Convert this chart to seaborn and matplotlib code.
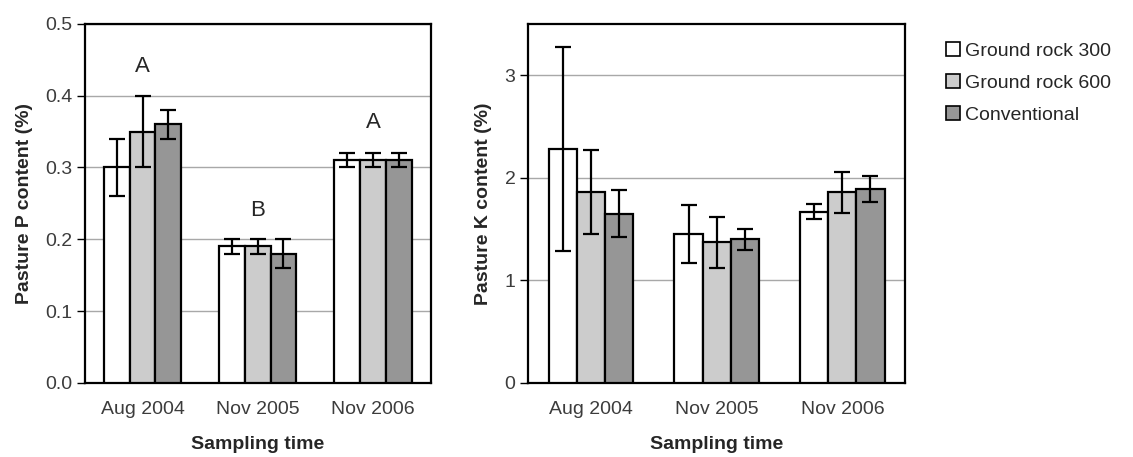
import pandas as pd
import seaborn as sns
import matplotlib.pyplot as plt
from matplotlib.patches import Patch

# data
times = ["Aug 2004", "Nov 2005", "Nov 2006"]
treatments = ["Ground rock 300", "Ground rock 600", "Conventional"]
colors = ["#ffffff", "#cccccc", "#969696"]

p_mean = [[0.30, 0.19, 0.31], [0.35, 0.19, 0.31], [0.36, 0.18, 0.31]]
p_err = [[0.04, 0.01, 0.01], [0.05, 0.01, 0.01], [0.02, 0.02, 0.01]]
p_letters = ["A", "B", "A"]
p_letter_y = [0.44, 0.24, 0.362]

k_mean = [[2.28, 1.45, 1.67], [1.86, 1.37, 1.86], [1.65, 1.40, 1.89]]
k_err = [[0.99, 0.28, 0.07], [0.41, 0.25, 0.20], [0.23, 0.10, 0.13]]


def long_df(means, errs):
    rows = []
    for i, trt in enumerate(treatments):
        for j, t in enumerate(times):
            rows.append({"time": t, "treatment": trt, "value": means[i][j], "err": errs[i][j]})
    return pd.DataFrame(rows)


sns.set_style("white")
plt.rcParams["font.family"] = ["Liberation Sans", "DejaVu Sans"]

fig = plt.figure(figsize=(11.33, 4.57), dpi=100)
ax1 = fig.add_axes([0.075, 0.162, 0.305, 0.786])
ax2 = fig.add_axes([0.466, 0.162, 0.333, 0.786])

tick_col = "#3c3c3c"


def draw(ax, means, errs, ylim, yticks, fmt, ylabel):
    df = long_df(means, errs)
    sns.barplot(data=df, x="time", y="value", hue="treatment", hue_order=treatments,
                palette=colors, edgecolor="black", linewidth=1.6, width=0.67,
                errorbar=None, legend=False, ax=ax, zorder=3)
    bars = list(ax.containers)
    for i, cont in enumerate(bars):
        sub = df[df["treatment"] == treatments[i]]
        xs = [b.get_x() + b.get_width() / 2 for b in cont]
        ax.errorbar(xs, sub["value"], yerr=sub["err"], fmt="none", ecolor="black",
                    elinewidth=1.6, capsize=5.5, capthick=1.6, zorder=4)
    ax.set_xlim(-0.5, 2.5)
    ax.set_ylim(*ylim)
    ax.set_yticks(yticks)
    ax.set_yticklabels([fmt.format(v) for v in yticks], fontsize=14, color=tick_col)
    for v in yticks[1:]:
        ax.axhline(v, color="#a8a8a8", linewidth=1, zorder=1)
    ax.set_xticks(range(len(times)))
    ax.set_xticklabels(times, fontsize=14, color=tick_col)
    ax.set_xticks([-0.5, 0.5, 1.5, 2.5], minor=True)
    ax.tick_params(axis="x", which="major", length=0, pad=13)
    ax.tick_params(axis="x", which="minor", length=6, width=1, direction="out", color="black")
    ax.tick_params(axis="y", length=6, width=1, direction="out", color="black", left=True, pad=3)
    for s in ax.spines.values():
        s.set_visible(True)
        s.set_color("black")
        s.set_linewidth(1.6)
    ax.set_xlabel("Sampling time", fontsize=14, fontweight="bold", labelpad=13)
    ax.set_ylabel(ylabel, fontsize=14, fontweight="bold", labelpad=9)


draw(ax1, p_mean, p_err, (0, 0.5), [0.0, 0.1, 0.2, 0.3, 0.4, 0.5], "{:.1f}", "Pasture P content (%)")
draw(ax2, k_mean, k_err, (0, 3.5), [0, 1, 2, 3], "{:.0f}", "Pasture K content (%)")

for j, (lab, y) in enumerate(zip(p_letters, p_letter_y)):
    ax1.text(j, y, lab, ha="center", va="center", fontsize=16)

handles = [Patch(facecolor=c, edgecolor="black", linewidth=1.2) for c in colors]
fig.legend(handles, treatments, loc="upper left", bbox_to_anchor=(0.828, 0.925),
           frameon=False, fontsize=14, handlelength=0.7, handleheight=0.7,
           handletextpad=0.3, labelspacing=0.75, borderaxespad=0)

fig.savefig("out.png", dpi=100)
